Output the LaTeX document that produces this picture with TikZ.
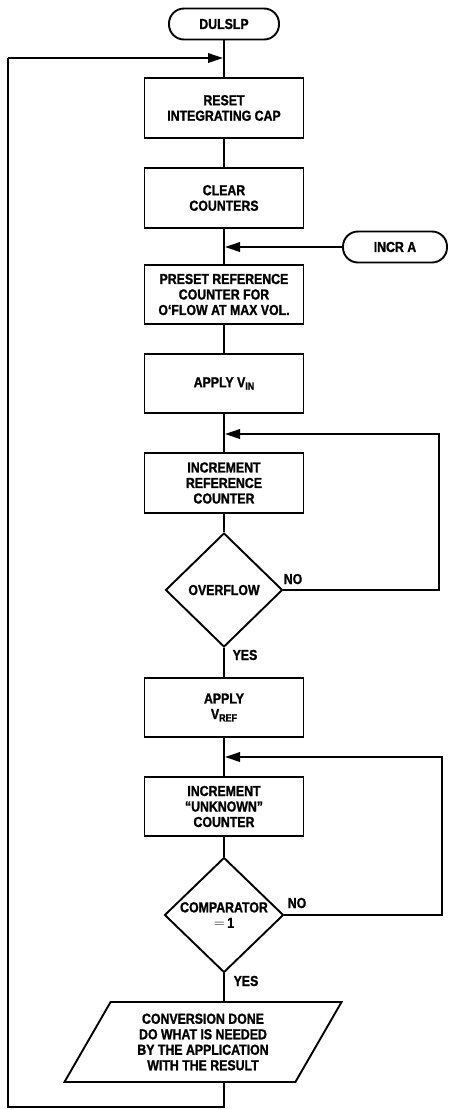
\documentclass[tikz,border=0pt]{standalone}
\usepackage{fontspec}
\setmainfont{Liberation Sans}[FakeStretch=0.85,BoldFeatures={FakeBold=1.3}]
\usetikzlibrary{arrows.meta,shapes.geometric}
\begin{document}
\begin{tikzpicture}[x=1pt,y=-1pt,line width=1.9pt,
  font=\fontsize{14.5}{15.5}\selectfont\bfseries,
  proc/.style={draw,rectangle,minimum width=159pt,minimum height=60pt,align=center,inner sep=0pt},
  term/.style={draw,rectangle,rounded corners=15pt,minimum height=31pt,align=center,inner sep=0pt},
  dec/.style={draw,diamond,minimum width=117pt,minimum height=114pt,inner sep=0pt,align=center},
  io/.style={draw,trapezium,trapezium left angle=60,trapezium right angle=120,minimum width=223pt,minimum height=80pt,align=center,inner sep=0pt},
  lbl/.style={inner sep=0pt},
  arr/.style={-{Triangle[length=15pt,width=9.5pt]}}]
\useasboundingbox (0,0) rectangle (448,1109);
\newcommand{\mysub}[1]{\raisebox{-2.5pt}{\fontsize{10.5}{10.5}\selectfont #1}}
% nodes
\node[term,minimum width=110pt] (start) at (224,24) {DULSLP};
\node[proc] (reset) at (224,108) {RESET\\INTEGRATING CAP};
\node[proc] (clear) at (224,198) {CLEAR\\COUNTERS};
\node[term,minimum width=104pt] (incra) at (395,247) {INCR A};
\node[proc,minimum height=59pt] (preset) at (224,294.5) {PRESET REFERENCE\\COUNTER FOR\\O‘FLOW AT MAX VOL.};
\node[proc,minimum height=59pt] (vin) at (224,383.5) {APPLY V\mysub{IN}};
\node[proc] (incref) at (224,483) {INCREMENT\\REFERENCE\\COUNTER};
\node[dec] (ovf) at (224,590) {OVERFLOW};
\node[proc,minimum height=59pt] (vref) at (224,707.5) {APPLY\\V\mysub{REF}};
\node[proc,minimum height=59pt] (incunk) at (224,806.5) {INCREMENT\\“UNKNOWN”\\COUNTER};
\node[dec,minimum width=119pt,minimum height=115pt] (cmp) at (224,915) {COMPARATOR\\$=$\,1};
\node[io] (done) at (203,1042) {CONVERSION DONE\\DO WHAT IS NEEDED\\BY THE APPLICATION\\WITH THE RESULT};
% labels
\node[lbl] (no1) at (293,579) {NO};
\node[lbl] (yes1) at (245,655) {YES};
\node[lbl] (no2) at (297,903) {NO};
\node[lbl] (yes2) at (246,981) {YES};
% junction coordinates
\coordinate (j0) at (start.south |- 0,58);
\coordinate (j1) at (clear.south |- 0,247);
\coordinate (j2) at (vin.south |- 0,434);
\coordinate (j3) at (vref.south |- 0,757);
\coordinate (r1) at (439,434);
\coordinate (r2) at (442,757);
\coordinate (b0) at (224,1107);
\coordinate (b1) at (8,1107);
\coordinate (b2) at (8,58);
% main flow
\draw (start.south) -- (reset.north);
\draw (reset.south) -- (clear.north);
\draw (clear.south) -- (preset.north);
\draw (preset.south) -- (vin.north);
\draw (vin.south) -- (incref.north);
\draw (incref.south) -- (ovf.north);
\draw (ovf.south) -- (vref.north);
\draw (vref.south) -- (incunk.north);
\draw (incunk.south) -- (cmp.north);
\draw (cmp.south) -- (cmp.south |- done.north);
\draw (cmp.south |- done.south) -- (b0) -- (b1) -- (b2);
% arrows
\draw[arr] (b2) -- ([xshift=-1pt]j0);
\draw[arr] (incra.west) -- ([xshift=1pt]j1);
\draw[arr] (ovf.east) -- (ovf.east -| r1) -- (r1) -- ([xshift=1pt]j2);
\draw[arr] (cmp.east) -- (cmp.east -| r2) -- (r2) -- ([xshift=1pt]j3);
\end{tikzpicture}
\end{document}
